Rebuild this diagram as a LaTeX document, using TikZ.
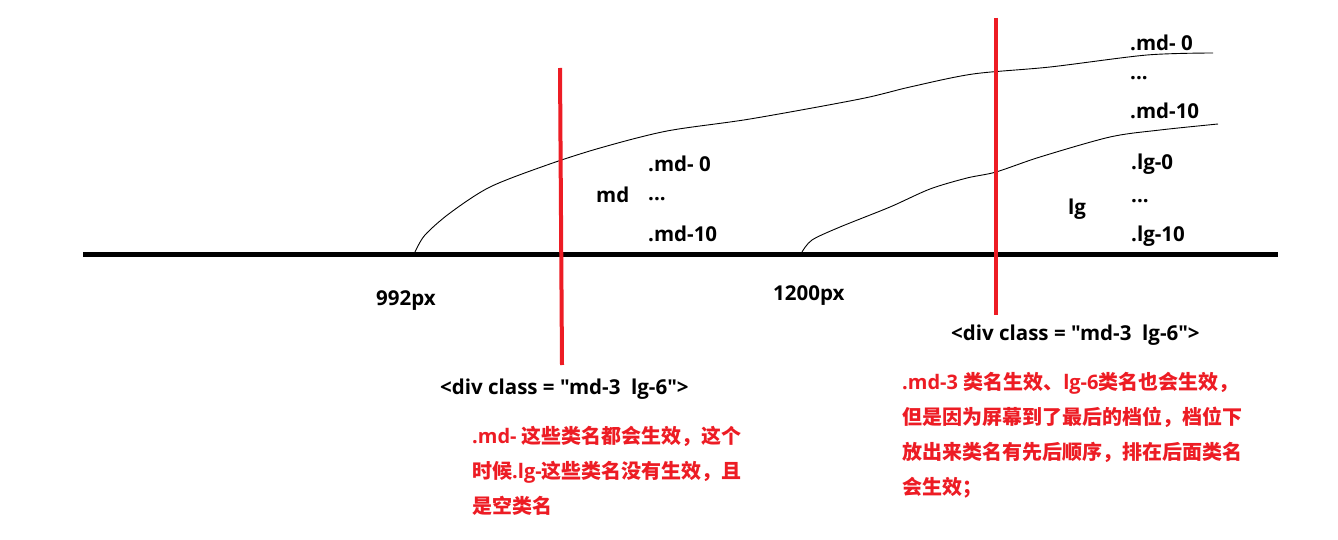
\documentclass[tikz,border=0pt]{standalone}
\usepackage{fontspec}
\setmainfont{Open Sans}[Ligatures=TeXOff]
\newfontfamily\cjk{Noto Sans CJK SC Bold}
\definecolor{pred}{HTML}{ED1C24}
\tikzset{
  lbl/.style={font=\fontsize{20.5}{24}\selectfont\bfseries, inner sep=0pt, anchor=west, text=black},
  note/.style={font=\fontsize{20}{35}\selectfont\bfseries, inner sep=0pt, anchor=north west, text=pred, align=left},
  redline/.style={draw=pred, line width=4pt},
  thin/.style={draw=black, line width=0.9pt},
}
\begin{document}
\begin{tikzpicture}[x=1pt,y=-1pt]
\useasboundingbox (0,0) rectangle (1338,540);
\fill[white] (0,0) rectangle (1338,540);
% axis
\coordinate (axL) at (83,254);
\coordinate (axR) at (1278,254);
\draw[line width=5pt] (axL) -- (axR);
% curves
\draw[thin] plot[smooth, tension=0.5] coordinates {(415,252) (425,235) (450,213) (490,187) (547,165) (600,148) (667,131) (750,119) (860,99) (910,87) (973,74) (1050,67) (1147,55) (1213,53)};
\draw[thin] plot[smooth, tension=0.5] coordinates {(802,252) (812,240) (840,227) (890,207) (930,189) (967,178) (996,172) (1040,157) (1110,137) (1160,130) (1218,124)};
% red lines
\coordinate (r1t) at (560,68);
\coordinate (r1b) at (562,365);
\coordinate (r2t) at (996,18);
\coordinate (r2b) at (996,315);
\draw[redline] (r1t) -- (r1b);
\draw[redline] (r2t) -- (r2b);
% md group
\node[lbl] (md) at (596,195) {md};
\node[lbl] (md0) at (648,164) {.md- 0};
\node[lbl] (mddots) at (648,199) {...};
\node[lbl] (md10) at (648,234) {.md-10};
% right group
\node[lbl] (mdR0) at (1130,43) {.md- 0};
\node[lbl] (mdRdots) at (1130,78) {...};
\node[lbl] (mdR10) at (1130,111) {.md-10};
\node[lbl] (lg) at (1068,209) {lg};
\node[lbl] (lg0) at (1131,164) {.lg-0};
\node[lbl] (lgdots) at (1131,201) {...};
\node[lbl] (lg10) at (1131,236) {.lg-10};
% px labels
\node[lbl] (p992) at (376,301) {992px};
\node[lbl] (p1200) at (773,296) {1200px};
% div labels
\node[lbl] (div1) at (440,389) {<div class = "md-3\ \ lg-6">};
\node[lbl] (div2) at (951,335) {<div class = "md-3\ \ lg-6">};
% notes
\node[note] (n1) at (472,426) {.md- {\cjk 这些类名都会生效，这个}\\{\cjk 时候}.lg-{\cjk 这些类名没有生效，且}\\{\cjk 是空类名}};
\node[note] (n2) at (902,372) {.md-3 {\cjk 类名生效、}lg-6{\cjk 类名也会生效，}\\{\cjk 但是因为屏幕到了最后的档位，档位下}\\{\cjk 放出来类名有先后顺序，排在后面类名}\\{\cjk 会生效；}};
\end{tikzpicture}
\end{document}
